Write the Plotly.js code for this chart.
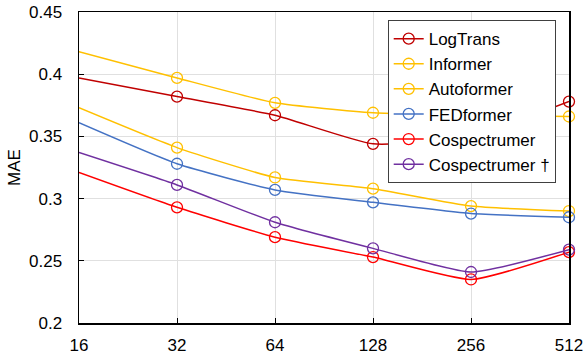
<!DOCTYPE html>
<html><head><meta charset="utf-8">
<script src="https://cdn.plot.ly/plotly-3.0.1.min.js"></script>
<style>html,body{margin:0;padding:0;background:#fff}#c{width:584px;height:360px}</style>
</head><body><div id="c"></div>
<script>
const xVals = [16, 32, 64, 128, 256, 512];
const xLabels = ["16", "32", "64", "128", "256", "512"];
const seriesNames = ["LogTrans", "Informer", "Autoformer", "FEDformer", "Cospectrumer", "Cospectrumer †"];
const logTrans = [0.397, 0.382, 0.367, 0.344, 0.350, 0.378];
const informer = [0.418, 0.397, 0.377, 0.369, 0.367, 0.366];
const autoformer = [0.373, 0.341, 0.317, 0.308, 0.294, 0.290];
const fedformer = [0.361, 0.328, 0.307, 0.297, 0.288, 0.285];
const cospectrumer = [0.321, 0.293, 0.269, 0.253, 0.235, 0.257];
const cospectrumerDagger = [0.337, 0.311, 0.281, 0.260, 0.241, 0.259];
const colors = ["#C00000", "#FFC000", "#FFC000", "#4472C4", "#FF0000", "#7030A0"];
const allSeries = [logTrans, informer, autoformer, fedformer, cospectrumer, cospectrumerDagger];

const traces = allSeries.map((ys, i) => ({
  x: xVals, y: ys, name: seriesNames[i], type: 'scatter', mode: 'lines+markers',
  line: {color: colors[i], width: 1.5, shape: 'spline', smoothing: 0.5},
  marker: {symbol: 'circle-open', size: 11, color: colors[i], line: {width: 1.3, color: colors[i]}},
  cliponaxis: false
}));

const layout = {
  width: 584, height: 360,
  margin: {l: 79, r: 15, t: 12, b: 37},
  paper_bgcolor: '#fff', plot_bgcolor: '#fff',
  font: {family: 'Arial, Liberation Sans, sans-serif', size: 17, color: '#000'},
  showlegend: true,
  legend: {x: 0.63, y: 0.974, xanchor: 'left', yanchor: 'top', bgcolor: '#fff',
    bordercolor: '#404040', borderwidth: 1, font: {size: 17}, tracegroupgap: 0},
  xaxis: {type: 'log', range: [Math.log10(16), Math.log10(512)], tickvals: xVals, ticktext: xLabels,
    showgrid: true, gridcolor: '#e0e0e0', gridwidth: 1, zeroline: false,
    showline: true, linecolor: '#000', linewidth: 1.5, mirror: true,
    ticks: 'inside', ticklen: 5, tickcolor: '#000', tickfont: {size: 17}, ticklabelstandoff: 6},
  yaxis: {range: [0.2, 0.45], tickvals: [0.2, 0.25, 0.3, 0.35, 0.4, 0.45],
    ticktext: ["0.2", "0.25", "0.3", "0.35", "0.4", "0.45"],
    showgrid: true, gridcolor: '#e0e0e0', gridwidth: 1, zeroline: false,
    showline: true, linecolor: '#000', linewidth: 1.5, mirror: true,
    ticks: 'inside', ticklen: 5, tickcolor: '#000', tickfont: {size: 17}, ticklabelstandoff: 12,
    title: {text: 'MAE', font: {size: 17}, standoff: 4}}
};
Plotly.newPlot('c', traces, layout, {displayModeBar: false, staticPlot: true});
</script></body></html>
